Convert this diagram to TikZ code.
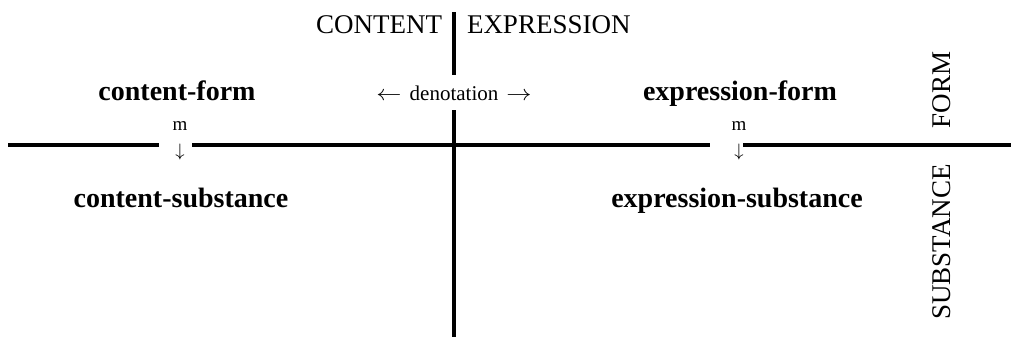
\documentclass[tikz,border=0pt]{standalone}
\usepackage{fontspec}
\setmainfont{Liberation Serif}
\begin{document}
\begin{tikzpicture}[x=0.5pt,y=-0.5pt,
  every node/.style={inner sep=0pt, outer sep=0pt},
  axis/.style={line width=2pt},
  big/.style={font=\fontsize{14}{16}\selectfont\bfseries, anchor=base},
  head/.style={font=\fontsize{13.5}{16}\selectfont},
  small/.style={font=\fontsize{9.5}{11}\selectfont},
  denot/.style={font=\fontsize{10.5}{12}\selectfont, anchor=base}]
\useasboundingbox (0,0) rectangle (1011,345);
% headings
\node[head, anchor=base east] (content) at (442,33) {CONTENT};
\node[head, anchor=base west] (expr) at (467,33) {EXPRESSION};
\node[denot] (denotation) at (454,100) {\scalebox{1.15}[1]{$\leftarrow$}\hspace{4pt}denotation\hspace{4pt}\scalebox{1.15}[1]{$\rightarrow$}};
% left column
\node[big] (cf) at (177,100) {content-form};
\node[small, anchor=base] (m1) at (180,130) {m};
\node[small] (a1) at (180,152) {$\downarrow$};
\node[big] (cs) at (181,207) {content-substance};
% right column
\node[big] (ef) at (740,100) {expression-form};
\node[small, anchor=base] (m2) at (739,130) {m};
\node[small] (a2) at (739,152) {$\downarrow$};
\node[big] (es) at (737,207) {expression-substance};
% side labels
\node[head, rotate=90] (form) at (942,90) {FORM};
\node[head, rotate=90] (subst) at (942,242) {SUBSTANCE};
% axes
\coordinate (vt) at (454,12);
\coordinate (vg1) at (454,75);
\coordinate (vg2) at (454,110);
\coordinate (vb) at (454,337);
\coordinate (hl) at (8,145);
\coordinate (hg1) at (159,145);
\coordinate (hg2) at (192,145);
\coordinate (hg3) at (710,145);
\coordinate (hg4) at (743,145);
\coordinate (hr) at (1011,145);
\draw[axis] (vt) -- (vg1);
\draw[axis] (vg2) -- (vb);
\draw[axis] (hl) -- (hg1);
\draw[axis] (hg2) -- (hg3);
\draw[axis] (hg4) -- (hr);
\end{tikzpicture}
\end{document}
